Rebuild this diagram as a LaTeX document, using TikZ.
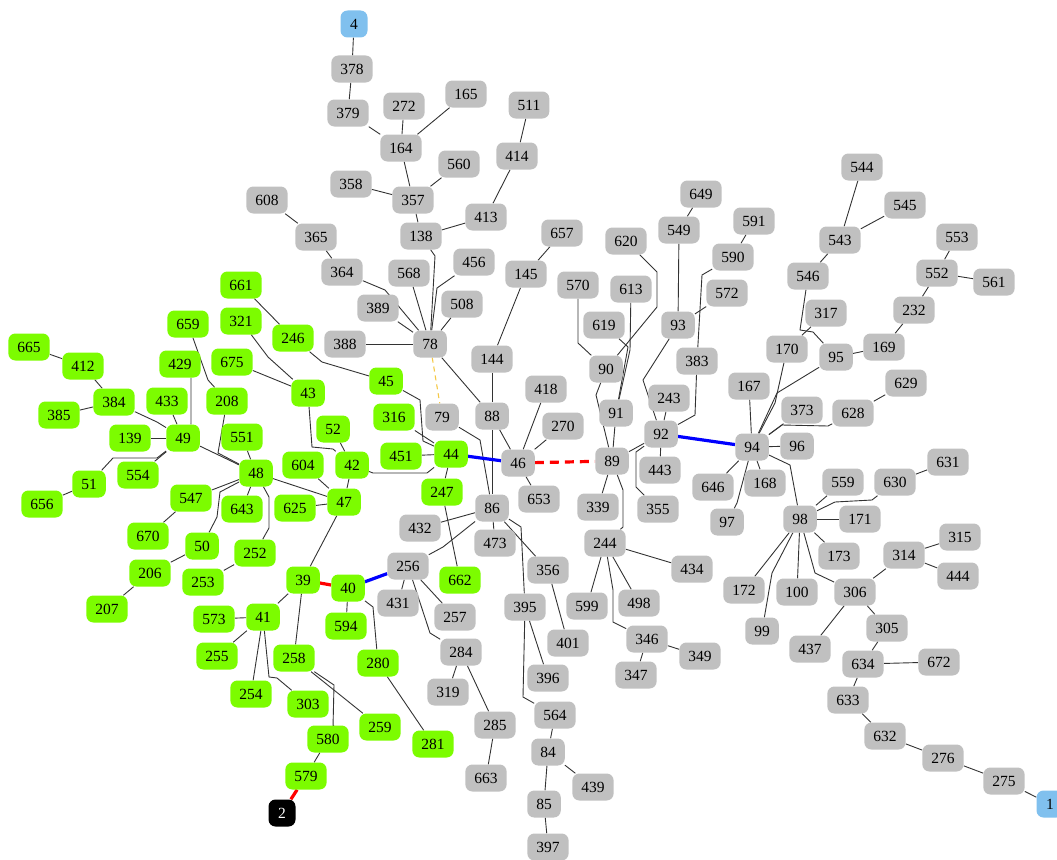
\documentclass[tikz,border=0pt]{standalone}
\usepackage{fontspec}
\setmainfont{Liberation Serif}
\definecolor{lgreen}{RGB}{124,252,0}
\definecolor{lgray}{RGB}{192,192,192}
\definecolor{lblue}{RGB}{128,192,238}
\definecolor{edgeor}{RGB}{245,200,70}
\pgfdeclarelayer{bg}
\pgfsetlayers{bg,main}
\tikzset{
 nd/.style={rounded corners=7pt, minimum height=27pt, inner xsep=9pt, inner ysep=0pt, font=\fontsize{15.5}{17}\selectfont},
 grn/.style={nd, fill=lgreen},
 gry/.style={nd, fill=lgray},
 blu/.style={nd, fill=lblue, minimum width=27pt},
 blk/.style={nd, fill=black, text=white, minimum width=27pt},
 ed/.style={draw=black!80, line width=0.9pt},
 eblue/.style={draw=blue, line width=3.2pt},
 ered/.style={draw=red, line width=3.2pt},
 eredd/.style={draw=red, line width=3.2pt, dash pattern=on 9pt off 6pt},
 eor/.style={draw=edgeor, line width=1.1pt, dash pattern=on 5pt off 4pt},
}
\newcommand\GN[4]{\node[#1] (n#4) at (#2,#3) {#4};}
\newcommand\ED[2]{\draw[ed] (n#1) -- (n#2);}
\begin{document}
\begin{tikzpicture}[x=1pt,y=-1pt]
\useasboundingbox (0,0) rectangle (1057,859);
% blue / black
\GN{blu}{354}{24}{4}
\GN{blu}{1050}{804}{1}
\GN{blk}{282}{813}{2}
% gray
\GN{gry}{352}{69}{378}
\GN{gry}{348}{113}{379}
\GN{gry}{404}{106}{272}
\GN{gry}{466}{94}{165}
\GN{gry}{401}{148}{164}
\GN{gry}{529}{105}{511}
\GN{gry}{517}{156}{414}
\GN{gry}{459}{164}{560}
\GN{gry}{351}{184}{358}
\GN{gry}{413}{200}{357}
\GN{gry}{267}{200}{608}
\GN{gry}{486}{217}{413}
\GN{gry}{421}{236}{138}
\GN{gry}{562}{233}{657}
\GN{gry}{316}{237}{365}
\GN{gry}{342}{272}{364}
\GN{gry}{409}{273}{568}
\GN{gry}{474}{262}{456}
\GN{gry}{526}{274}{145}
\GN{gry}{378}{308}{389}
\GN{gry}{462}{304}{508}
\GN{gry}{345}{344}{388}
\GN{gry}{430}{344}{78}
\GN{gry}{492}{359}{144}
\GN{gry}{442}{417}{79}
\GN{gry}{492}{416}{88}
\GN{gry}{546}{389}{418}
\GN{gry}{563}{426}{270}
\GN{gry}{518}{463}{46}
\GN{gry}{539}{499}{653}
\GN{gry}{492}{508}{86}
\GN{gry}{420}{528}{432}
\GN{gry}{495}{543}{473}
\GN{gry}{408}{566}{256}
\GN{gry}{398}{603}{431}
\GN{gry}{455}{617}{257}
\GN{gry}{548}{570}{356}
\GN{gry}{525}{607}{395}
\GN{gry}{568}{643}{401}
\GN{gry}{461}{652}{284}
\GN{gry}{448}{692}{319}
\GN{gry}{548}{678}{396}
\GN{gry}{495}{725}{285}
\GN{gry}{555}{715}{564}
\GN{gry}{548}{752}{84}
\GN{gry}{593}{787}{439}
\GN{gry}{486}{778}{663}
\GN{gry}{544}{804}{85}
\GN{gry}{548}{847}{397}
\GN{gry}{578}{285}{570}
\GN{gry}{626}{241}{620}
\GN{gry}{631}{289}{613}
\GN{gry}{604}{325}{619}
\GN{gry}{606}{369}{90}
\GN{gry}{616}{413}{91}
\GN{gry}{612}{461}{89}
\GN{gry}{598}{507}{339}
\GN{gry}{605}{543}{244}
\GN{gry}{692}{569}{434}
\GN{gry}{587}{606}{599}
\GN{gry}{639}{603}{498}
\GN{gry}{647}{639}{346}
\GN{gry}{700}{656}{349}
\GN{gry}{636}{675}{347}
\GN{gry}{701}{194}{649}
\GN{gry}{679}{230}{549}
\GN{gry}{754}{221}{591}
\GN{gry}{733}{257}{590}
\GN{gry}{727}{293}{572}
\GN{gry}{678}{325}{93}
\GN{gry}{697}{361}{383}
\GN{gry}{669}{398}{243}
\GN{gry}{661}{434}{92}
\GN{gry}{660}{470}{443}
\GN{gry}{658}{509}{355}
\GN{gry}{752}{447}{94}
\GN{gry}{797}{446}{96}
\GN{gry}{749}{386}{167}
\GN{gry}{802}{410}{373}
\GN{gry}{853}{413}{628}
\GN{gry}{906}{383}{629}
\GN{gry}{713}{487}{646}
\GN{gry}{765}{483}{168}
\GN{gry}{727}{522}{97}
\GN{gry}{787}{349}{170}
\GN{gry}{826}{313}{317}
\GN{gry}{836}{357}{95}
\GN{gry}{884}{347}{169}
\GN{gry}{808}{276}{546}
\GN{gry}{840}{240}{543}
\GN{gry}{862}{167}{544}
\GN{gry}{905}{205}{545}
\GN{gry}{957}{237}{553}
\GN{gry}{937}{273}{552}
\GN{gry}{994}{282}{561}
\GN{gry}{914}{310}{232}
\GN{gry}{800}{519}{98}
\GN{gry}{843}{482}{559}
\GN{gry}{895}{482}{630}
\GN{gry}{948}{462}{631}
\GN{gry}{860}{519}{171}
\GN{gry}{839}{556}{173}
\GN{gry}{744}{590}{172}
\GN{gry}{797}{592}{100}
\GN{gry}{762}{631}{99}
\GN{gry}{855}{592}{306}
\GN{gry}{904}{555}{314}
\GN{gry}{960}{537}{315}
\GN{gry}{958}{576}{444}
\GN{gry}{810}{649}{437}
\GN{gry}{887}{628}{305}
\GN{gry}{863}{664}{634}
\GN{gry}{939}{662}{672}
\GN{gry}{848}{700}{633}
\GN{gry}{885}{736}{632}
\GN{gry}{943}{758}{276}
\GN{gry}{1004}{781}{275}
% green
\GN{grn}{241}{285}{661}
\GN{grn}{188}{324}{659}
\GN{grn}{241}{321}{321}
\GN{grn}{293}{338}{246}
\GN{grn}{29}{347}{665}
\GN{grn}{83}{366}{412}
\GN{grn}{180}{364}{429}
\GN{grn}{232}{362}{675}
\GN{grn}{308}{393}{43}
\GN{grn}{114}{402}{384}
\GN{grn}{167}{401}{433}
\GN{grn}{227}{401}{208}
\GN{grn}{59}{415}{385}
\GN{grn}{130}{438}{139}
\GN{grn}{183}{438}{49}
\GN{grn}{242}{437}{551}
\GN{grn}{333}{429}{52}
\GN{grn}{138}{475}{554}
\GN{grn}{89}{484}{51}
\GN{grn}{256}{473}{48}
\GN{grn}{303}{465}{604}
\GN{grn}{352}{465}{42}
\GN{grn}{42}{504}{656}
\GN{grn}{191}{498}{547}
\GN{grn}{242}{509}{643}
\GN{grn}{295}{508}{625}
\GN{grn}{344}{502}{47}
\GN{grn}{148}{536}{670}
\GN{grn}{202}{546}{50}
\GN{grn}{255}{553}{252}
\GN{grn}{150}{573}{206}
\GN{grn}{203}{582}{253}
\GN{grn}{303}{580}{39}
\GN{grn}{107}{609}{207}
\GN{grn}{214}{619}{573}
\GN{grn}{263}{617}{41}
\GN{grn}{348}{588}{40}
\GN{grn}{346}{626}{594}
\GN{grn}{217}{656}{255}
\GN{grn}{294}{658}{258}
\GN{grn}{378}{663}{280}
\GN{grn}{251}{694}{254}
\GN{grn}{308}{704}{303}
\GN{grn}{380}{727}{259}
\GN{grn}{328}{739}{580}
\GN{grn}{433}{744}{281}
\GN{grn}{306}{776}{579}
\GN{grn}{386}{381}{45}
\GN{grn}{394}{417}{316}
\GN{grn}{401}{456}{451}
\GN{grn}{451}{454}{44}
\GN{grn}{442}{492}{247}
\GN{grn}{460}{580}{662}
\begin{pgfonlayer}{bg}
% straight edges
\ED{4}{378}\ED{378}{379}\ED{379}{164}\ED{272}{164}\ED{165}{164}\ED{164}{357}
\ED{358}{357}\ED{560}{357}\ED{357}{138}\ED{138}{413}\ED{413}{414}\ED{414}{511}
\ED{608}{365}\ED{365}{364}\ED{568}{78}\ED{508}{78}\ED{389}{78}\ED{388}{78}
\ED{78}{88}\ED{657}{145}\ED{145}{144}\ED{144}{88}\ED{88}{86}\ED{88}{46}
\ED{418}{46}\ED{270}{46}\ED{46}{653}\ED{86}{432}\ED{86}{473}\ED{86}{356}
\ED{356}{401}\ED{395}{396}\ED{564}{84}\ED{84}{439}\ED{84}{85}\ED{85}{397}
\ED{256}{431}\ED{256}{257}\ED{284}{319}\ED{284}{285}\ED{285}{663}\ED{247}{662}
\ED{44}{247}\ED{91}{89}\ED{89}{339}\ED{89}{92}\ED{92}{243}\ED{92}{443}
\ED{93}{549}\ED{549}{649}\ED{93}{572}\ED{590}{591}\ED{244}{434}\ED{244}{599}
\ED{244}{498}\ED{346}{349}\ED{346}{347}\ED{94}{167}\ED{94}{373}\ED{94}{96}
\ED{94}{646}\ED{94}{168}\ED{170}{317}\ED{95}{169}\ED{169}{232}\ED{232}{552}
\ED{552}{553}\ED{552}{561}\ED{546}{543}\ED{543}{544}\ED{543}{545}\ED{628}{629}
\ED{98}{559}\ED{98}{171}\ED{98}{173}\ED{98}{172}\ED{98}{100}\ED{306}{314}
\ED{314}{315}\ED{314}{444}\ED{306}{437}\ED{306}{305}\ED{305}{634}\ED{634}{672}
\ED{634}{633}\ED{633}{632}\ED{632}{276}\ED{276}{275}\ED{275}{1}\ED{630}{631}
\ED{44}{451}\ED{44}{316}\ED{42}{52}\ED{42}{47}\ED{47}{604}\ED{47}{625}
\ED{47}{48}\ED{47}{39}\ED{43}{675}\ED{48}{49}\ED{48}{551}\ED{48}{643}
\ED{48}{547}\ED{547}{670}\ED{50}{206}\ED{206}{207}\ED{252}{253}\ED{49}{433}
\ED{49}{139}\ED{49}{554}\ED{384}{412}\ED{384}{385}\ED{412}{665}\ED{51}{656}
\ED{39}{41}\ED{39}{258}\ED{40}{594}\ED{41}{573}\ED{41}{255}\ED{41}{254}
\ED{258}{259}\ED{280}{281}\ED{580}{579}\ED{246}{661}
% bent edges
\draw[ed] (n364) -- (385,290) -- (n78);
\draw[ed] (n138) -- (435,256) -- (n78);
\draw[ed] (n456) -- (437,288) -- (n78);
\draw[ed] (n79) -- (480,440) -- (n86);
\draw[ed] (n86) -- (443,547) -- (n256);
\draw[ed] (n86) -- (521,527) -- (n395);
\draw[ed] (n395) -- (523,697) -- (n564);
\draw[ed] (n256) -- (430,633) -- (n284);
\draw[ed] (n89) -- (596,395) -- (n90);
\draw[ed] (n570) -- (578,343) -- (n90);
\draw[ed] (n620) -- (657,272) -- (657,307) -- (n90);
\draw[ed] (n613) -- (630,350) -- (n91);
\draw[ed] (n619) -- (628,347) -- (n91);
\draw[ed] (n89) -- (623,490) -- (623,527) -- (n244);
\draw[ed] (n92) -- (636,452) -- (636,487) -- (n355);
\draw[ed] (n92) -- (643,380) -- (n93);
\draw[ed] (n92) -- (695,415) -- (n383);
\draw[ed] (n383) -- (702,275) -- (n590);
\draw[ed] (n244) -- (613,590) -- (613,622) -- (n346);
\draw[ed] (n94) -- (775,403) -- (n170);
\draw[ed] (n94) -- (777,393) -- (n95);
\draw[ed] (n94) -- (782,425) -- (828,426) -- (n628);
\draw[ed] (n94) -- (737,503) -- (n97);
\draw[ed] (n94) -- (790,465) -- (n98);
\draw[ed] (n546) -- (800,330) -- (813,332) -- (n95);
\draw[ed] (n98) -- (835,502) -- (872,500) -- (n630);
\draw[ed] (n98) -- (772,573) -- (n99);
\draw[ed] (n98) -- (815,573) -- (n306);
\draw[ed] (n45) -- (420,400) -- (423,441) -- (n44);
\draw[ed] (n246) -- (322,362) -- (n45);
\draw[ed] (n44) -- (427,473) -- (373,473) -- (n42);
\draw[ed] (n43) -- (312,447) -- (333,449) -- (n42);
\draw[ed] (n43) -- (268,357) -- (n321);
\draw[ed] (n208) -- (218,453) -- (n48);
\draw[ed] (n659) -- (208,380) -- (n208);
\draw[ed] (n48) -- (220,492) -- (217,517) -- (n50);
\draw[ed] (n48) -- (269,497) -- (269,528) -- (n252);
\draw[ed] (n384) -- (157,422) -- (n49);
\draw[ed] ([xshift=11pt]n429.south) -- (191,424) -- (n49);
\draw[ed] (n49) -- (157,458) -- (113,458) -- (n51);
\draw[ed] (n41) -- (269,677) -- (277,678) -- (n303);
\draw[ed] (n258) -- (334,685) -- (333,727) -- (n580);
\draw[ed] (n40) -- (373,607) -- (n280);
% coloured edges
\draw[eblue] (n44) -- (n46);
\draw[eblue] (n92) -- (n94);
\draw[eblue] (n40) -- (n256);
\draw[eredd] (n46) -- (n89);
\draw[ered] (n39) -- (n40);
\draw[ered] (n579) -- (n2);
\draw[eor] (n78) -- (n79);
\end{pgfonlayer}
\end{tikzpicture}
\end{document}
